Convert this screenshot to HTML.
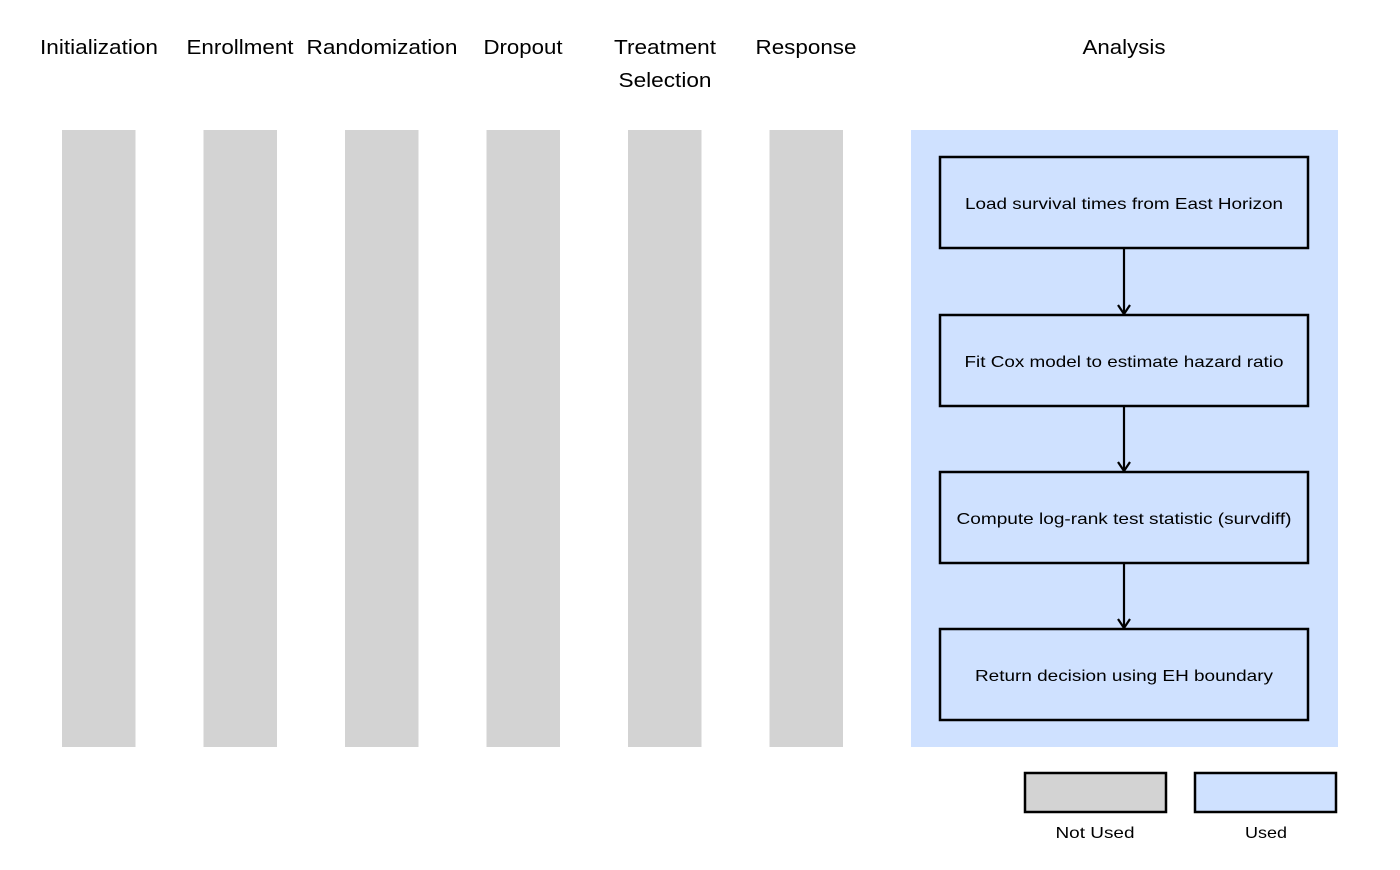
<!DOCTYPE html>
<html><head><meta charset="utf-8"><style>
html,body{margin:0;padding:0;background:#fff;}
</style></head><body>
<svg width="1400" height="865" xmlns="http://www.w3.org/2000/svg" font-family="Liberation Sans, Arial, sans-serif">
<g font-size="20" text-anchor="middle" fill="#000" lengthAdjust="spacingAndGlyphs">
<text x="99" y="54" textLength="118" lengthAdjust="spacingAndGlyphs">Initialization</text>
<text x="240" y="54" textLength="107" lengthAdjust="spacingAndGlyphs">Enrollment</text>
<text x="382" y="54" textLength="151" lengthAdjust="spacingAndGlyphs">Randomization</text>
<text x="523" y="54" textLength="79" lengthAdjust="spacingAndGlyphs">Dropout</text>
<text x="665" y="54" textLength="102" lengthAdjust="spacingAndGlyphs">Treatment</text>
<text x="665" y="87" textLength="93" lengthAdjust="spacingAndGlyphs">Selection</text>
<text x="806" y="54" textLength="101" lengthAdjust="spacingAndGlyphs">Response</text>
<text x="1124" y="54" textLength="83" lengthAdjust="spacingAndGlyphs">Analysis</text>
</g>
<g fill="#d3d3d3">
<rect x="62" y="130" width="73.5" height="617"/>
<rect x="203.5" y="130" width="73.5" height="617"/>
<rect x="345" y="130" width="73.5" height="617"/>
<rect x="486.5" y="130" width="73.5" height="617"/>
<rect x="628" y="130" width="73.5" height="617"/>
<rect x="769.5" y="130" width="73.5" height="617"/>
</g>
<rect x="911" y="130" width="427" height="617" fill="#cfe1ff"/>
<g fill="#cfe1ff" stroke="#000" stroke-width="2.5">
<rect x="940" y="157" width="368" height="91"/>
<rect x="940" y="315" width="368" height="91"/>
<rect x="940" y="472" width="368" height="91"/>
<rect x="940" y="629" width="368" height="91"/>
</g>
<g stroke="#000" stroke-width="2.2" fill="none">
<line x1="1124" y1="248" x2="1124" y2="314"/><polyline points="1118,305 1124,314 1130,305"/>
<line x1="1124" y1="406" x2="1124" y2="471"/><polyline points="1118,462 1124,471 1130,462"/>
<line x1="1124" y1="563" x2="1124" y2="628"/><polyline points="1118,619 1124,628 1130,619"/>
</g>
<g font-size="16" text-anchor="middle" fill="#000">
<text x="1124" y="209" textLength="318" lengthAdjust="spacingAndGlyphs">Load survival times from East Horizon</text>
<text x="1124" y="367" textLength="319" lengthAdjust="spacingAndGlyphs">Fit Cox model to estimate hazard ratio</text>
<text x="1124" y="524" textLength="335" lengthAdjust="spacingAndGlyphs">Compute log-rank test statistic (survdiff)</text>
<text x="1124" y="681" textLength="298" lengthAdjust="spacingAndGlyphs">Return decision using EH boundary</text>
</g>
<rect x="1025" y="773" width="141" height="39" fill="#d3d3d3" stroke="#000" stroke-width="2.5"/>
<rect x="1195" y="773" width="141" height="39" fill="#cfe1ff" stroke="#000" stroke-width="2.5"/>
<g font-size="16" text-anchor="middle" fill="#000">
<text x="1095" y="838" textLength="79" lengthAdjust="spacingAndGlyphs">Not Used</text>
<text x="1266" y="838" textLength="42" lengthAdjust="spacingAndGlyphs">Used</text>
</g>
</svg>
</body></html>
